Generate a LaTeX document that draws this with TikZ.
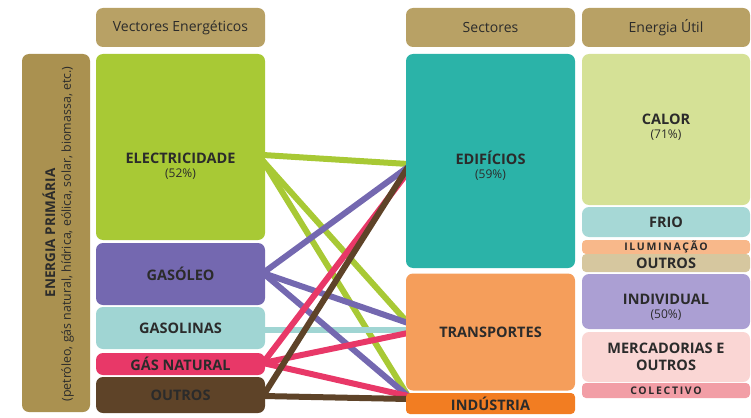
\documentclass[tikz,border=0pt]{standalone}
\usepackage{fontspec}
\setmainfont{Open Sans}
\usetikzlibrary{backgrounds}
\definecolor{hdr}{HTML}{B8A165}
\definecolor{prim}{HTML}{AA9150}
\definecolor{celec}{HTML}{A8C935}
\definecolor{cgaso}{HTML}{7468B0}
\definecolor{cgasl}{HTML}{A0D5D3}
\definecolor{cgnat}{HTML}{E83868}
\definecolor{coutl}{HTML}{5E4328}
\definecolor{cedif}{HTML}{2BB3A8}
\definecolor{ctrans}{HTML}{F59E5B}
\definecolor{cind}{HTML}{F27D22}
\definecolor{ccalor}{HTML}{D5E196}
\definecolor{cfrio}{HTML}{A6D8D6}
\definecolor{cilum}{HTML}{F8B88A}
\definecolor{coutr}{HTML}{D6C79F}
\definecolor{cindiv}{HTML}{AB9FD3}
\definecolor{cmerc}{HTML}{FAD6D4}
\definecolor{ccolec}{HTML}{F29EA6}
\definecolor{txt}{HTML}{2B2B2B}
\tikzset{
  box/.style={rounded corners=7pt, inner sep=0pt, draw=none, text=txt, align=center},
  sbox/.style={rounded corners=4pt, inner sep=0pt, draw=none, text=txt, align=center},
  lbl/.style={text=txt, align=center, font=\bfseries\fontsize{14.5}{15}\selectfont, inner sep=0pt},
  smalllbl/.style={font=\bfseries\fontsize{10.5}{11}\selectfont\addfontfeature{LetterSpace=16}},
  hdrtxt/.style={font=\fontsize{14}{15}\selectfont},
  flow/.style={line width=6pt}
}
\newcommand{\pctxt}[1]{{\mdseries\fontsize{12}{14}\selectfont #1}}
\begin{document}
\begin{tikzpicture}[x=1pt,y=-1pt]
\useasboundingbox (0,0) rectangle (751,417);
% headers
\node[box, fill=hdr, minimum width=169, minimum height=39, hdrtxt] (h1) at (180.5,27.5) {Vectores Energéticos};
\node[box, fill=hdr, minimum width=169, minimum height=39, hdrtxt] (h2) at (490.5,27.5) {Sectores};
\node[box, fill=hdr, minimum width=168, minimum height=39, hdrtxt] (h3) at (666,27.5) {Energia Útil};
% primary
\node[box, fill=prim, minimum width=68, minimum height=358] (prim) at (56,233) {};
\node[rotate=90, lbl, font=\bfseries\fontsize{13.5}{14}\selectfont] (primt) at (49,233) {ENERGIA PRIMÁRIA};
\node[rotate=90, text=txt, inner sep=0pt, font=\fontsize{12.4}{13}\selectfont] (prims) at (67.5,234) {(petróleo, gás natural, hídrica, eólica, solar, biomassa, etc.)};
% vectores
\node[box, fill=celec, minimum width=169, minimum height=186] (elec) at (180.5,147) {};
\node[lbl] (elect) at (180.5,166) {ELECTRICIDADE\\[-1pt]\pctxt{(52\%)}};
\node[box, fill=cgaso, minimum width=169, minimum height=62, lbl] (gaso) at (180.5,274) {GASÓLEO};
\node[box, fill=cgasl, minimum width=169, minimum height=42, lbl] (gasl) at (180.5,328) {GASOLINAS};
\node[box, fill=cgnat, minimum width=169, minimum height=22, lbl] (gnat) at (180.5,364) {GÁS NATURAL};
\node[box, fill=coutl, minimum width=169, minimum height=36, lbl] (outl) at (180.5,395) {OUTROS};
% sectores
\node[box, fill=cedif, minimum width=169, minimum height=214] (edif) at (490.5,161) {};
\node[lbl] (edift) at (490.5,166) {EDIFÍCIOS\\[-1pt]\pctxt{(59\%)}};
\node[box, fill=ctrans, minimum width=169, minimum height=117, lbl] (trans) at (490.5,332) {TRANSPORTES};
\node[sbox, fill=cind, minimum width=169, minimum height=21, lbl] (ind) at (490.5,403.5) {INDÚSTRIA};
% energia util
\node[box, fill=ccalor, minimum width=168, minimum height=151] (calor) at (666,129.5) {};
\node[lbl] (calort) at (666,127) {CALOR\\[-1pt]\pctxt{(71\%)}};
\node[box, fill=cfrio, minimum width=168, minimum height=30, lbl] (frio) at (666,222) {FRIO};
\node[sbox, fill=cilum, minimum width=168, minimum height=14, lbl, smalllbl] (ilum) at (666,247) {ILUMINAÇÃO};
\node[sbox, fill=coutr, minimum width=168, minimum height=18, lbl] (outr) at (666,263) {OUTROS};
\node[box, fill=cindiv, minimum width=168, minimum height=55] (indiv) at (666,301.5) {};
\node[lbl] (indivt) at (666,307) {INDIVIDUAL\\[-1pt]\pctxt{(50\%)}};
\node[box, fill=cmerc, minimum width=168, minimum height=50, lbl, font=\bfseries\fontsize{14.5}{17}\selectfont] (merc) at (666,357) {MERCADORIAS E\\OUTROS};
\node[sbox, fill=ccolec, minimum width=168, minimum height=15, lbl, smalllbl] (colec) at (666,390.5) {COLECTIVO};
% flow endpoints
\coordinate (eA) at (263,155);
\coordinate (eB) at (263,161);
\coordinate (gA) at (263,273);
\coordinate (sA) at (263,330);
\coordinate (nA) at (263,363);
\coordinate (oA) at (263,396);
\coordinate (ed1) at (408,164);
\coordinate (ed2) at (408,167);
\coordinate (ed3) at (408,172);
\coordinate (tr1) at (408,323);
\coordinate (tr2) at (408,330);
\coordinate (tr3) at (408,333);
\coordinate (in1) at (408,396);
\coordinate (in2) at (408,399);
\begin{scope}[on background layer]
\draw[flow, celec] (eA) -- (ed1);
\draw[flow, celec] (eB) -- (tr1);
\draw[flow, celec] (eB) -- (in1);
\draw[flow, cgasl] (sA) -- (tr2);
\draw[flow, cgaso] (gA) -- (ed2);
\draw[flow, cgaso] (gA) -- (tr1);
\draw[flow, cgaso] (gA) -- (in1);
\draw[flow, cgnat] (nA) -- (ed3);
\draw[flow, cgnat] (nA) -- (tr3);
\draw[flow, cgnat] (nA) -- (in1);
\draw[flow, coutl] (oA) -- (ed2);
\draw[flow, coutl] (oA) -- (in2);
\end{scope}
\end{tikzpicture}
\end{document}
